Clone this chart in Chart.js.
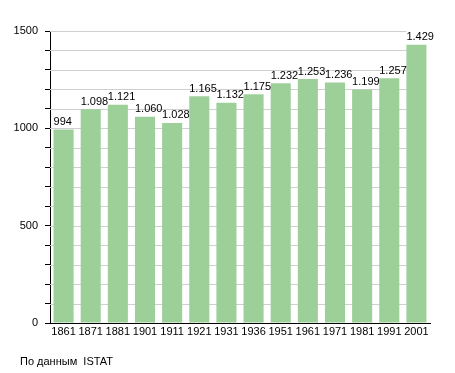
<!DOCTYPE html>
<html>
<head>
<meta charset="utf-8">
<script src="https://cdn.jsdelivr.net/npm/chart.js@4"></script>
<style>
  body { margin: 0; background: #fff; }
  #wrap { position: relative; width: 455px; height: 373px; }
  #source {
    position: absolute; left: 20px; top: 355px;
    font: 11px "Liberation Sans", Arial, sans-serif; color: #000;
    white-space: pre;
  }
</style>
</head>
<body>
<div id="wrap">
  <canvas id="chart" width="455" height="373"></canvas>
  <div id="source">По данным  ISTAT</div>
</div>
<script>
const years = ["1861", "1871", "1881", "1901", "1911", "1921", "1931", "1936", "1951", "1961", "1971", "1981", "1991", "2001"];
const population = [994, 1098, 1121, 1060, 1028, 1165, 1132, 1175, 1232, 1253, 1236, 1199, 1257, 1429];
const yTicks = [0, 500, 1000, 1500];

const font = { family: '"Liberation Sans", Arial, sans-serif', size: 11 };

function fmt(n) {
  return String(n).replace(/\B(?=(\d{3})+(?!\d))/g, ".");
}

// light grid lines every 100, they stop where the last bar starts
const gridLines = {
  id: 'gridLines',
  beforeDatasetsDraw(chart) {
    const { ctx, chartArea, scales } = chart;
    const bars = chart.getDatasetMeta(0).data;
    const last = bars[bars.length - 1];
    const right = last.x - last.width / 2;
    ctx.save();
    ctx.strokeStyle = '#cfcfcf';
    ctx.lineWidth = 1;
    for (let v = 100; v <= 1500; v += 100) {
      const y = Math.round(scales.y.getPixelForValue(v)) + 0.5;
      ctx.beginPath();
      ctx.moveTo(chartArea.left, y);
      ctx.lineTo(right, y);
      ctx.stroke();
    }
    ctx.restore();
  }
};

const barLabels = {
  id: 'barLabels',
  afterDatasetsDraw(chart) {
    const { ctx } = chart;
    ctx.save();
    ctx.font = font.size + 'px ' + font.family;
    ctx.fillStyle = '#000';
    ctx.textAlign = 'left';
    ctx.textBaseline = 'bottom';
    chart.getDatasetMeta(0).data.forEach((bar, i) => {
      ctx.fillText(fmt(population[i]), bar.x - bar.width / 2, bar.y - 2);
    });
    ctx.restore();
  }
};

new Chart(document.getElementById('chart'), {
  type: 'bar',
  data: {
    labels: years,
    datasets: [{
      data: population,
      backgroundColor: 'rgb(157, 208, 153)',
      borderWidth: 0,
      barPercentage: 0.86,
      categoryPercentage: 0.86,
    }]
  },
  options: {
    responsive: false,
    animation: false,
    layout: { padding: { top: 31, right: 25, left: 0, bottom: 0 } },
    plugins: { legend: { display: false }, tooltip: { enabled: false } },
    scales: {
      x: {
        grid: { display: false, drawTicks: false },
        border: { color: '#000', width: 1 },
        ticks: { color: '#000', font, padding: 2, maxRotation: 0, autoSkip: false },
        afterFit(scale) { scale.height = 50; }
      },
      y: {
        min: 0,
        max: 1500,
        grid: { drawOnChartArea: false, color: '#000', tickLength: 5, tickColor: '#000' },
        border: { color: '#000', width: 1 },
        ticks: {
          stepSize: 100,
          color: '#000',
          font,
          padding: 7,
          callback: v => yTicks.includes(v) ? String(v) : ''
        },
        afterFit(scale) { scale.width = 50; }
      }
    }
  },
  plugins: [gridLines, barLabels]
});
</script>
</body>
</html>
